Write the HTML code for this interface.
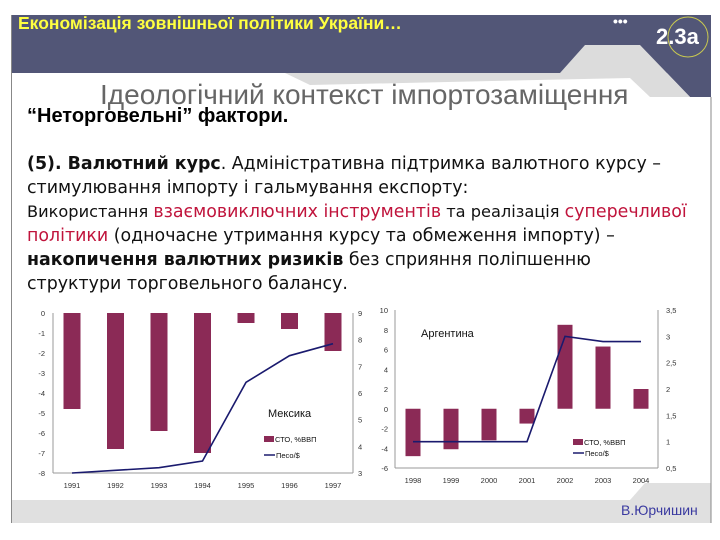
<!DOCTYPE html>
<html><head><meta charset="utf-8">
<style>
body{margin:0;width:720px;height:540px;background:#fff;position:relative;overflow:hidden;font-family:"Liberation Sans",sans-serif}
.abs{position:absolute}
.body{font-family:"DejaVu Sans",sans-serif;font-size:17.4px;color:#111;left:27px;white-space:nowrap}
.red{color:#c0143c}
</style></head><body>
<svg class="abs" style="left:0;top:0" width="720" height="540">
<rect x="11" y="15" width="700" height="58" fill="#525677"/>
<polygon points="560,73 585,45 640,45 690,97 711,97 711,73" fill="#525677"/>
<polygon points="285,73 560,73 585,45 640,45 690,97 650,97 630,78 310,85" fill="#dcdcdc"/>
<rect x="11" y="500" width="700" height="23" fill="#e0e0e0"/>
<polygon points="630,500 645,483 711,483 711,500" fill="#e0e0e0"/>
<line x1="11.5" y1="15" x2="11.5" y2="523" stroke="#888"/>
<line x1="711" y1="97" x2="711" y2="523" stroke="#888"/>
<circle cx="688" cy="37" r="20" fill="none" stroke="#c8c850" stroke-width="1"/>
</svg>
<div class="abs" style="left:18px;top:13px;color:#ffff40;font-size:17.5px;font-weight:bold">Економізація зовнішньої політики України…</div>
<div class="abs" style="left:613px;top:13px;color:#fff;font-size:14px;font-weight:bold">•••</div>
<div class="abs" style="left:656px;top:24px;color:#fff;font-size:22px;font-weight:bold">2.3a</div>
<div class="abs" style="left:100px;top:79px;color:#666;font-size:28px">Ідеологічний контекст імпортозаміщення</div>
<div class="abs" style="left:27px;top:105px;color:#000;font-size:20px;font-weight:bold">“Неторговельні” фактори.</div>
<div class="abs body" style="top:154px"><b>(5). Валютний курс</b>. Адміністративна підтримка валютного курсу –</div>
<div class="abs body" style="top:178px">стимулювання імпорту і гальмування експорту:</div>
<div class="abs body" style="top:202px;font-size:16.2px">Використання <span class="red" style="font-size:17.4px">взаємовиключних інструментів</span> та реалізація <span class="red" style="font-size:17.4px">суперечливої</span></div>
<div class="abs body" style="top:226px"><span class="red">політики</span> (одночасне утримання курсу та обмеження імпорту) –</div>
<div class="abs body" style="top:250px"><b>накопичення валютних ризиків</b> без сприяння поліпшенню</div>
<div class="abs body" style="top:274px">структури торговельного балансу.</div>
<div class="abs" style="left:621px;top:502px;color:#3a3aa0;font-size:14px">В.Юрчишин</div>
<svg id="ch" class="abs" style="left:0;top:0" width="720" height="540"></svg>
<script>
const mxYears=["1991","1992","1993","1994","1995","1996","1997"];
const mxCto=[-4.8,-6.8,-5.9,-7.0,-0.5,-0.8,-1.9];
const mxPeso=[3.0,3.1,3.2,3.45,6.4,7.4,7.85];
const mxLeftTicks=[0,-1,-2,-3,-4,-5,-6,-7,-8];
const mxRightTicks=[9,8,7,6,5,4,3];
const arYears=["1998","1999","2000","2001","2002","2003","2004"];
const arCto=[-4.8,-4.1,-3.2,-1.5,8.5,6.3,2.0];
const arPeso=[1,1,1,1,3,2.9,2.9];
const arLeftTicks=[10,8,6,4,2,0,-2,-4,-6];
const arRightTicks=[3.5,3,2.5,2,1.5,1,0.5];
const NS="http://www.w3.org/2000/svg";
const svg=document.getElementById('ch');
function mk(t,a,txt){const e=document.createElementNS(NS,t);for(const k in a)e.setAttribute(k,a[k]);if(txt!==undefined)e.textContent=txt;svg.appendChild(e);return e;}
function chart(c){
  const yL=v=>c.y0+(c.lmax-v)/(c.lmax-c.lmin)*(c.y1-c.y0);
  const yR=v=>c.y0+(c.rmax-v)/(c.rmax-c.rmin)*(c.y1-c.y0);
  const xC=i=>c.xf+i*c.step;
  let e=mk('line',{x1:c.px0,y1:c.y0,x2:c.px0,y2:c.y1,stroke:'#999'});
  
  e=mk('line',{x1:c.px1,y1:c.y0,x2:c.px1,y2:c.y1,stroke:'#999'});
  
  e=mk('line',{x1:c.px0,y1:c.y1,x2:c.px1,y2:c.y1,stroke:'#999'});
  
  c.lt.forEach(v=>{e=mk('text',{x:c.lx,y:yL(v)+3,'font-size':7.5,'text-anchor':'end',fill:'#333'},String(v));
    });
  c.rt.forEach(v=>{e=mk('text',{x:c.rx,y:yR(v)+3,'font-size':7.5,fill:'#333'},String(v).replace('.',','));
    });
  c.cats.forEach((s,i)=>{e=mk('text',{x:xC(i),y:c.y1+15,'font-size':7.5,'text-anchor':'middle',fill:'#333'},s);
    });
  c.bars.forEach((v,i)=>{const a=yL(0),b=yL(v);
    e=mk('rect',{x:xC(i)-c.bw/2,y:Math.min(a,b),width:c.bw,height:Math.abs(b-a),fill:'#8b2a56'});
    });
  e=mk('polyline',{points:c.line.map((v,i)=>xC(i)+','+yR(v)).join(' '),fill:'none',stroke:'#1a1a6e','stroke-width':1.6});
  
}
chart({id:'mexico',cats:mxYears,bars:mxCto,line:mxPeso,lt:mxLeftTicks,rt:mxRightTicks,lmax:0,lmin:-8,rmax:9,rmin:3,
  y0:313,y1:473,xf:72,step:43.5,bw:17,px0:53,px1:353,lx:45,rx:358});
chart({id:'argentina',cats:arYears,bars:arCto,line:arPeso,lt:arLeftTicks,rt:arRightTicks,lmax:10,lmin:-6,rmax:3.5,rmin:0.5,
  y0:310,y1:468,xf:413,step:38,bw:15,px0:395,px1:658,lx:388,rx:666});
function txt(x,y,s,sz,n){const e=mk('text',{x:x,y:y,'font-size':sz,fill:'#111'},s);}
txt(268,417,'Мексика',11,'mexico-label');
txt(421,337,'Аргентина',11,'argentina-label');
let r=mk('rect',{x:264,y:436,width:10,height:6,fill:'#8b2a56'});
txt(275,442,'СТО, %ВВП',7.5,'mexico-legend-cto');
r=mk('line',{x1:264,y1:455,x2:275,y2:455,stroke:'#1a1a6e','stroke-width':1.5});
txt(276,458,'Песо/$',7.5,'mexico-legend-peso');
r=mk('rect',{x:573,y:439,width:10,height:6,fill:'#8b2a56'});
txt(584,445,'СТО, %ВВП',7.5,'argentina-legend-cto');
r=mk('line',{x1:573,y1:453,x2:584,y2:453,stroke:'#1a1a6e','stroke-width':1.5});
txt(585,456,'Песо/$',7.5,'argentina-legend-peso');
</script>
</body></html>
